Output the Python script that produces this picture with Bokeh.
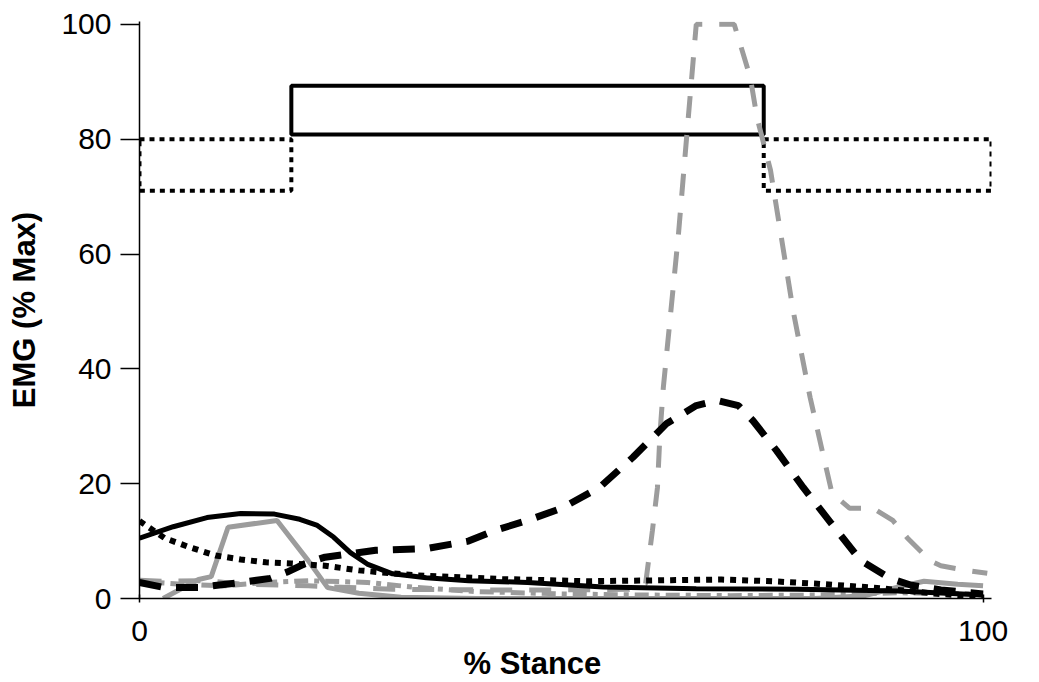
from bokeh.plotting import figure
from bokeh.models import Range1d, FixedTicker, Title
from bokeh.embed import file_html
from bokeh.resources import INLINE

# ---- data ----
x_ticks = [0, 100]
y_ticks = [0, 20, 40, 60, 80, 100]

# activity bars (x start, x end, y bottom, y top)
dotted_left = [0, 74]
dotted_right = [18, 101]
dotted_bottom = [71, 71]
dotted_top = [80, 80]
solid_left = [18]
solid_right = [74]
solid_bottom = [80.8]
solid_top = [89.3]

black_solid_x = [0, 4, 8, 12, 16, 19, 21, 23, 25, 27, 30, 34, 39, 46, 55, 66, 78, 90, 100]
black_solid_y = [10.5, 12.5, 14.1, 14.8, 14.7, 13.8, 12.8, 10.7, 8.0, 6.0, 4.3, 3.6, 3.1, 2.8, 2.0, 1.7, 1.6, 1.3, 0.6]

black_dot_x = [0, 3, 6, 9, 12, 15, 18, 22, 26, 33, 43, 53, 58, 63, 69, 75, 80, 87, 94, 100]
black_dot_y = [13.5, 10.5, 8.9, 7.5, 6.8, 6.3, 6.1, 5.7, 4.9, 4.0, 3.4, 3.0, 3.1, 3.2, 3.3, 3.0, 2.6, 1.9, 0.9, 0.2]

black_dash_x = [0, 3, 7, 12, 15.5, 17.5, 19.5, 22, 28, 34, 39, 42, 46, 50, 54.5, 58.5, 62.5, 66, 68.5, 71, 72.7,
                75.5, 78.7, 82, 85.5, 89, 91.5, 95, 100]
black_dash_y = [2.8, 1.9, 1.9, 2.8, 3.5, 4.6, 6.0, 7.2, 8.4, 8.7, 10.0, 11.8, 13.6, 15.7, 19.3, 24.6, 30.5, 33.6,
                34.5, 33.6, 31.0, 25.8, 19.3, 13.1, 6.6, 3.5, 2.3, 1.5, 0.8]

gray_dash_x = [0, 3, 8, 12, 20, 30, 40, 50, 58, 60, 60.8, 61.4, 61.7, 62.1, 63.9, 65, 66, 70.5, 72.4, 73.2, 74.8,
               75.9, 77.5, 79.5, 81, 82.1, 84.2, 87, 89.3, 91, 93.7, 95, 98, 100.5]
gray_dash_y = [3.2, 3.0, 3.1, 2.5, 2.2, 1.6, 1.5, 1.5, 1.6, 2.6, 11.8, 19.3, 28.7, 36.8, 63.6, 82.8, 100, 100, 90.8,
               83.8, 74.6, 64.6, 50, 35, 25.3, 18.3, 15.7, 15.7, 13.6, 10.6, 6.6, 5.7, 4.9, 4.4]

gray_solid_x = [2.8, 7, 8.5, 10.5, 16.3, 20, 22.3, 26, 31, 40, 50, 60, 70, 80, 86, 90, 93, 97, 100]
gray_solid_y = [0, 3.3, 3.8, 12.4, 13.6, 6.6, 1.9, 0.9, 0.2, 0, 0, 0, 0, 0, 0.5, 2.0, 3.0, 2.5, 2.2]

gray_dashdot_x = [0, 5, 10, 15, 20, 27, 33, 40, 50, 60, 70, 80, 90, 100]
gray_dashdot_y = [3.0, 2.5, 2.2, 2.8, 3.1, 2.8, 1.9, 1.2, 0.8, 0.6, 0.5, 0.6, 1.0, 0.8]

BLACK = "#000000"
GRAY = "#9c9c9c"
FONT = "Liberation Sans"

p = figure(width=1039, height=682, x_range=Range1d(0, 101), y_range=Range1d(0, 100.5),
           output_backend="svg", toolbar_location=None,
           min_border_left=139, min_border_right=48, min_border_top=21, min_border_bottom=84)
p.outline_line_color = None
p.grid.visible = False
p.background_fill_color = "white"
p.border_fill_color = "white"

# bars
p.quad(left=dotted_left, right=dotted_right, bottom=dotted_bottom, top=dotted_top,
       fill_color=None, line_color=BLACK, line_width=4, line_dash="5 5")
p.quad(left=solid_left, right=solid_right, bottom=solid_bottom, top=solid_top,
       fill_color=None, line_color=BLACK, line_width=4)

# curves (gray first, black on top)
p.line(gray_dashdot_x, gray_dashdot_y, line_color=GRAY, line_width=5, line_dash="14 6 5 6")
p.line(gray_solid_x, gray_solid_y, line_color=GRAY, line_width=5)
p.line(gray_dash_x, gray_dash_y, line_color=GRAY, line_width=5, line_dash="22 17")
p.line(black_dash_x, black_dash_y, line_color=BLACK, line_width=7, line_dash="22 15")
p.line(black_dot_x, black_dot_y, line_color=BLACK, line_width=6, line_dash="6 6")
p.line(black_solid_x, black_solid_y, line_color=BLACK, line_width=5)

# axes
xa = p.xaxis[0]
xa.ticker = FixedTicker(ticks=x_ticks)
xa.minor_tick_line_color = None
xa.major_tick_in = 4
xa.major_tick_out = 4
xa.major_label_standoff = 18
xa.axis_line_width = 1.5
xa.major_tick_line_width = 1.5
xa.major_label_text_font = FONT
xa.major_label_text_font_size = "30px"
xa.major_label_text_color = BLACK

ya = p.yaxis[0]
ya.ticker = FixedTicker(ticks=y_ticks)
ya.minor_tick_line_color = None
ya.major_tick_in = 0
ya.major_tick_out = 19
ya.major_label_standoff = 9
ya.axis_line_width = 1.5
ya.major_tick_line_width = 1.5
ya.major_label_text_font = FONT
ya.major_label_text_font_size = "30px"
ya.major_label_text_color = BLACK
ya.axis_label = "EMG (% Max)"
ya.axis_label_text_font = FONT
ya.axis_label_text_font_size = "31px"
ya.axis_label_text_font_style = "bold"
ya.axis_label_text_color = BLACK
ya.axis_label_standoff = 16

p.add_layout(Title(text="% Stance", align="left", offset=324, standoff=0,
                   text_font=FONT, text_font_size="31px", text_font_style="bold", text_color=BLACK),
             "below")

open("out.html", "w").write(file_html(p, INLINE))
